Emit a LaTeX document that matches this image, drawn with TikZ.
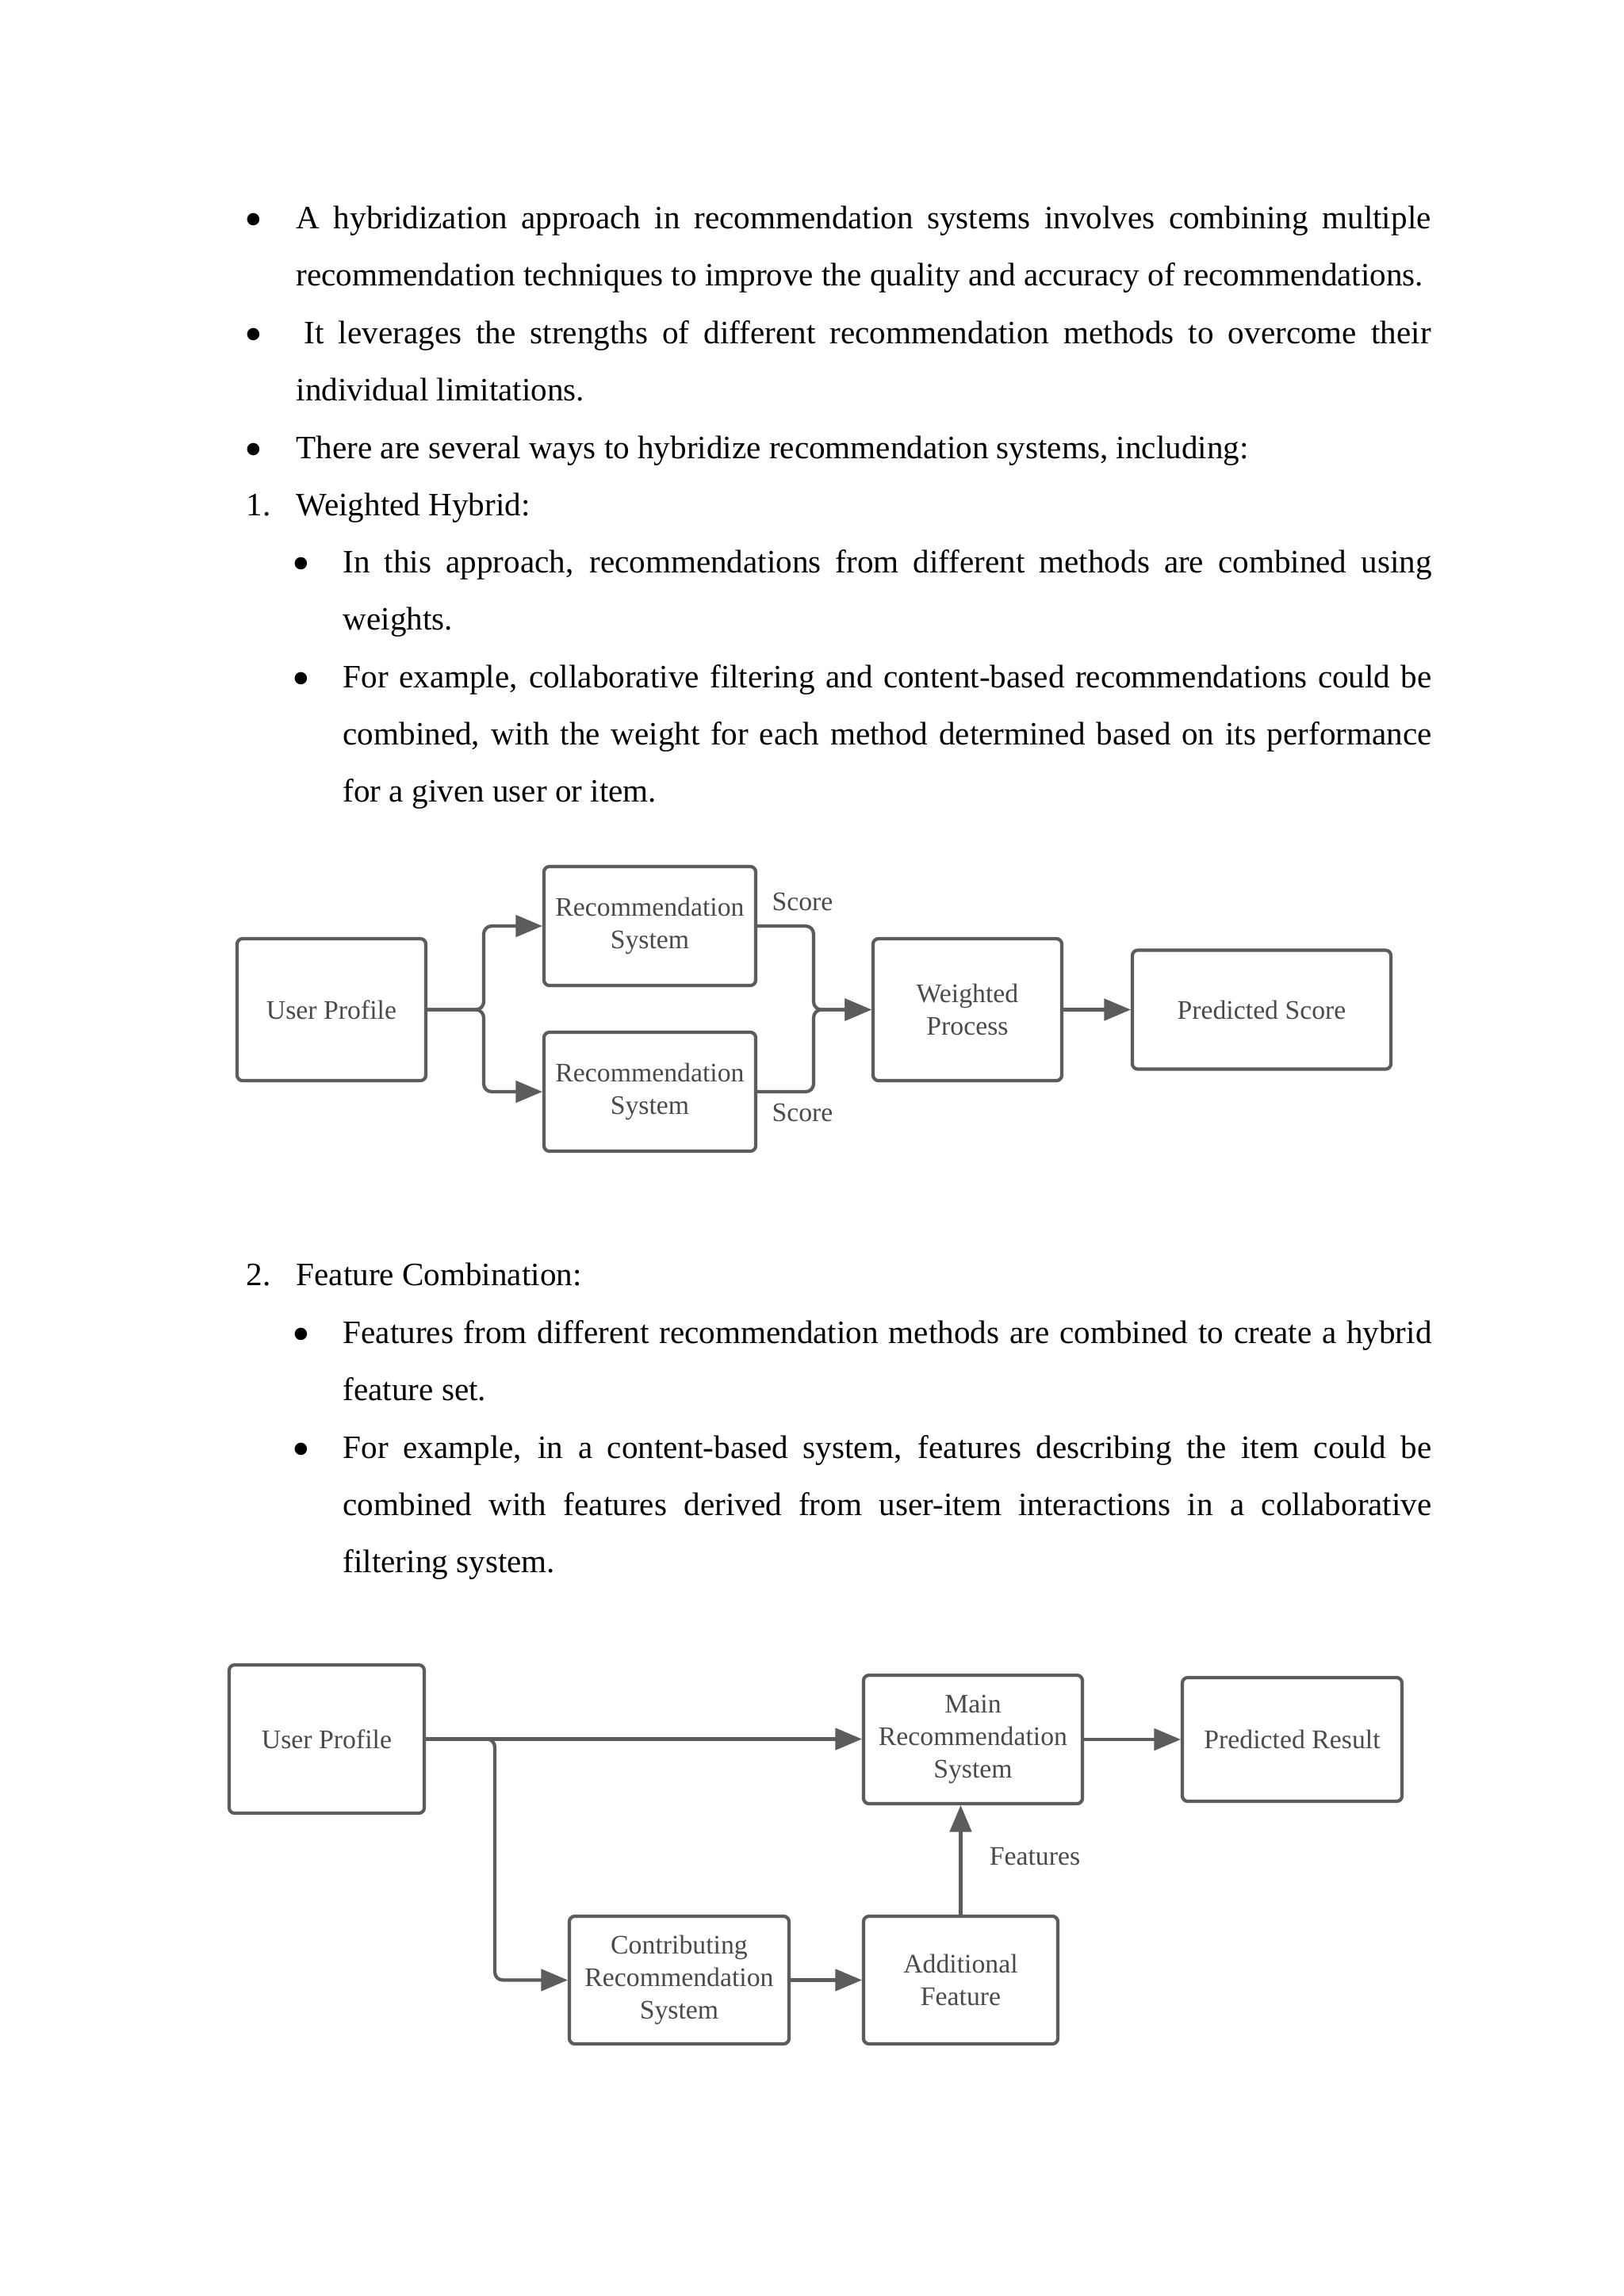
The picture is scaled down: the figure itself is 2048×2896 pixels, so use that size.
\documentclass[tikz,border=0pt]{standalone}
\usepackage{fontspec}
\setmainfont{Liberation Serif}
\usepackage{tikz}
\usetikzlibrary{arrows}
\usetikzlibrary{positioning}
\usetikzlibrary{calc}
\definecolor{boxgray}{HTML}{5C5C5C}
\definecolor{labgray}{HTML}{4A4A4A}
\newcommand{\txtfont}{\fontsize{11.7pt}{20.6pt}\selectfont}
\newcommand{\boxfont}{\fontsize{9.6pt}{11.6pt}\selectfont}
\tikzset{
  para/.style={anchor=base west,inner sep=0pt,text width=14.3cm,align=justify,font=\txtfont,
    execute at begin node={\hyphenpenalty=10000\exhyphenpenalty=10000}},
  subpara/.style={para,text width=13.72cm},
  headtxt/.style={anchor=base west,inner sep=0pt,font=\txtfont},
  bul/.style={anchor=center,inner sep=0pt,font=\fontsize{18.5pt}{20pt}\selectfont},
  blk/.style={draw=boxgray,line width=1.2pt,rounded corners=0.07cm,align=center,text=labgray,font=\boxfont,inner sep=2pt},
  lbl/.style={inner sep=1pt,text=labgray,font=\boxfont},
  conn/.style={draw=boxgray,line width=1.2pt}
}

\begin{document}
\begin{tikzpicture}[line cap=round,line join=round,>=triangle 45,x=0.01cm,y=-0.01cm]
\fill[white] (0,0) rectangle (2048,2896);
\useasboundingbox (0,0) rectangle (2048,2896);
\node[bul] (bulA) at (320,284) {\textbullet};
\node[para] (parA) at (373,288) {A hybridization approach in recommendation systems involves combining multiple\linebreak recommendation techniques to improve the quality and accuracy of recommendations.};
\node[bul] (bulB) at (320,429) {\textbullet};
\node[para] (parB) at (373,433) {\hspace*{0.1cm}It leverages the strengths of different recommendation methods to overcome their\linebreak individual limitations.};
\node[bul] (bulC) at (320,574) {\textbullet};
\node[para] (parC) at (373,578) {There are several ways to hybridize recommendation systems, including:};
\node[headtxt] (numA) at (310,650) {1.};
\node[headtxt] (headA) at (373,650) {Weighted Hybrid:};
\node[bul] (bulD) at (380,718) {\textbullet};
\node[subpara] (parD) at (432,722) {In this approach, recommendations from different methods are combined using\linebreak weights.};
\node[bul] (bulE) at (380,863) {\textbullet};
\node[subpara] (parE) at (432,867) {For example, collaborative filtering and content-based recommendations could be\linebreak combined, with the weight for each method determined based on its performance\linebreak for a given user or item.};

\node[blk,minimum width=2.38cm,minimum height=1.79cm] (user1) at (418,1273.5) {User Profile};
\node[blk,minimum width=2.67cm,minimum height=1.5cm] (recA) at (819.5,1168) {Recommendation\\System};
\node[blk,minimum width=2.67cm,minimum height=1.5cm] (recB) at (819.5,1377) {Recommendation\\System};
\node[blk,minimum width=2.38cm,minimum height=1.79cm] (weigh) at (1220,1273.5) {Weighted\\Process};
\node[blk,minimum width=3.26cm,minimum height=1.5cm] (predS) at (1591,1273.5) {Predicted Score};
\node[lbl] (scoreA) at (1012,1137) {Score};
\node[lbl] (scoreB) at (1012,1403) {Score};
\coordinate (splitL) at (610,1273.5);
\coordinate (joinR) at (1026,1273.5);
\draw[conn,->,rounded corners=0.1cm] (user1.east) -- (splitL) |- (recA.west);
\draw[conn,->,rounded corners=0.1cm] (user1.east) -- (splitL) |- (recB.west);
\draw[conn,->,rounded corners=0.1cm] (recA.east) -| (joinR) -- (weigh.west);
\draw[conn,->,rounded corners=0.1cm] (recB.east) -| (joinR) -- (weigh.west);
\draw[conn,->] (weigh) -- (predS);

\node[headtxt] (numB) at (310,1621) {2.};
\node[headtxt] (headB) at (373,1621) {Feature Combination:};
\node[bul] (bulF) at (380,1690) {\textbullet};
\node[subpara] (parF) at (432,1694) {Features from different recommendation methods are combined to create a hybrid\linebreak feature set.};
\node[bul] (bulG) at (380,1835) {\textbullet};
\node[subpara] (parG) at (432,1839) {For example, in a content-based system, features describing the item could be\linebreak combined with features derived from user-item interactions in a collaborative\linebreak filtering system.};

\node[blk,minimum width=2.46cm,minimum height=1.87cm] (user2) at (412,2193.5) {User Profile};
\node[blk,minimum width=2.76cm,minimum height=1.62cm] (mainRS) at (1227,2194) {Main\\Recommendation\\System};
\node[blk,minimum width=2.77cm,minimum height=1.56cm] (predR) at (1629.5,2194) {Predicted Result};
\node[blk,minimum width=2.77cm,minimum height=1.61cm] (contRS) at (856.5,2497.5) {Contributing\\Recommendation\\System};
\node[blk,minimum width=2.45cm,minimum height=1.61cm] (addF) at (1211.5,2497.5) {Additional\\Feature};
\node[lbl] (featLbl) at (1305,2342) {Features};
\coordinate (split2) at (624,2193.5);
\draw[conn,->] (user2.east) -- (user2.east -| mainRS.west);
\draw[conn,->,rounded corners=0.1cm] (user2.east) -- (split2) |- (contRS.west);
\draw[conn,->] (mainRS) -- (predR);
\draw[conn,->] (contRS) -- (addF);
\draw[conn,->] (addF.north) -- (addF.north |- mainRS.south);
\end{tikzpicture}
\end{document}
